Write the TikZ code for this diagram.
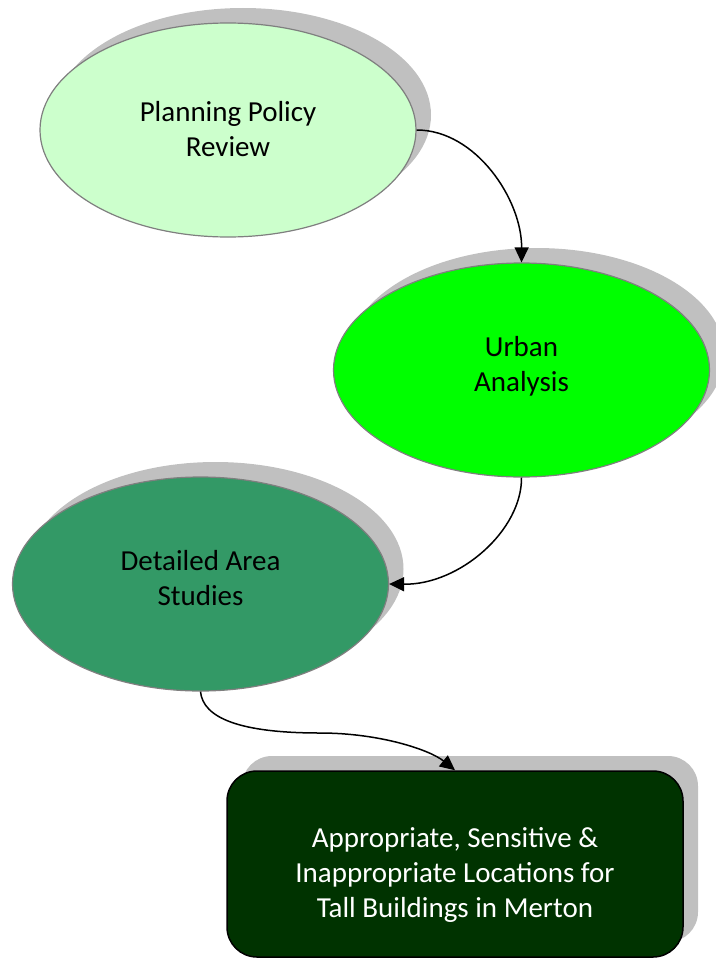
\documentclass[tikz,border=0pt]{standalone}
\usepackage{fontspec}
\setmainfont{Carlito}
\usetikzlibrary{shapes.geometric,shadows,arrows.meta}
\definecolor{shgray}{HTML}{C0C0C0}
\definecolor{pale}{HTML}{CCFFCC}
\definecolor{bright}{HTML}{00FF00}
\definecolor{mid}{HTML}{339966}
\definecolor{deep}{HTML}{003300}
\definecolor{rim}{HTML}{7F7F7F}
\newcommand{\nodelines}[2]{\raisebox{#1}[\height][\depth]{\begin{tabular}{@{}c@{}}#2\end{tabular}}}
\tikzset{
  stage/.style={ellipse, minimum width=376pt, minimum height=214pt, inner sep=0pt,
    draw=rim, line width=1.2pt,
    drop shadow={shadow xshift=15pt, shadow yshift=15pt, fill=shgray, opacity=1},
    font=\fontsize{29}{35}\selectfont},
  result/.style={rectangle, rounded corners=30pt, minimum width=456pt, minimum height=186pt,
    inner sep=0pt, draw=black, line width=1.5pt, fill=deep, text=white,
    drop shadow={shadow xshift=15pt, shadow yshift=15pt, fill=shgray, opacity=1},
    font=\fontsize{29}{35}\selectfont},
  link/.style={line width=1.5pt, -{Triangle[length=15pt,width=14pt]}}
}
\begin{document}
\begin{tikzpicture}[x=1pt,y=-1pt]
\useasboundingbox (0,0) rectangle (715,958);
\node[stage, fill=pale] (e1) at (228,130) {\nodelines{-2pt}{Planning Policy\\Review}};
\node[stage, fill=bright] (e2) at (521.5,370) {\nodelines{3pt}{Urban\\Analysis}};
\node[stage, fill=mid] (e3) at (200.5,584) {\nodelines{3pt}{Detailed Area\\Studies}};
\node[result] (out) at (455,864) {\nodelines{-11pt}{Appropriate, Sensitive \&\\Inappropriate Locations for\\Tall Buildings in Merton}};
\draw[link] (e1.east) .. controls (476,130) and (522,200) .. (e2.north);
\draw[link] (e2.south) .. controls (522,530) and (460,585) .. (e3.east);
\draw[link] (e3.south) .. controls (203,718) and (240,733) .. (320,733)
  .. controls (380,733) and (430,750) .. (out.north);
\end{tikzpicture}
\end{document}
